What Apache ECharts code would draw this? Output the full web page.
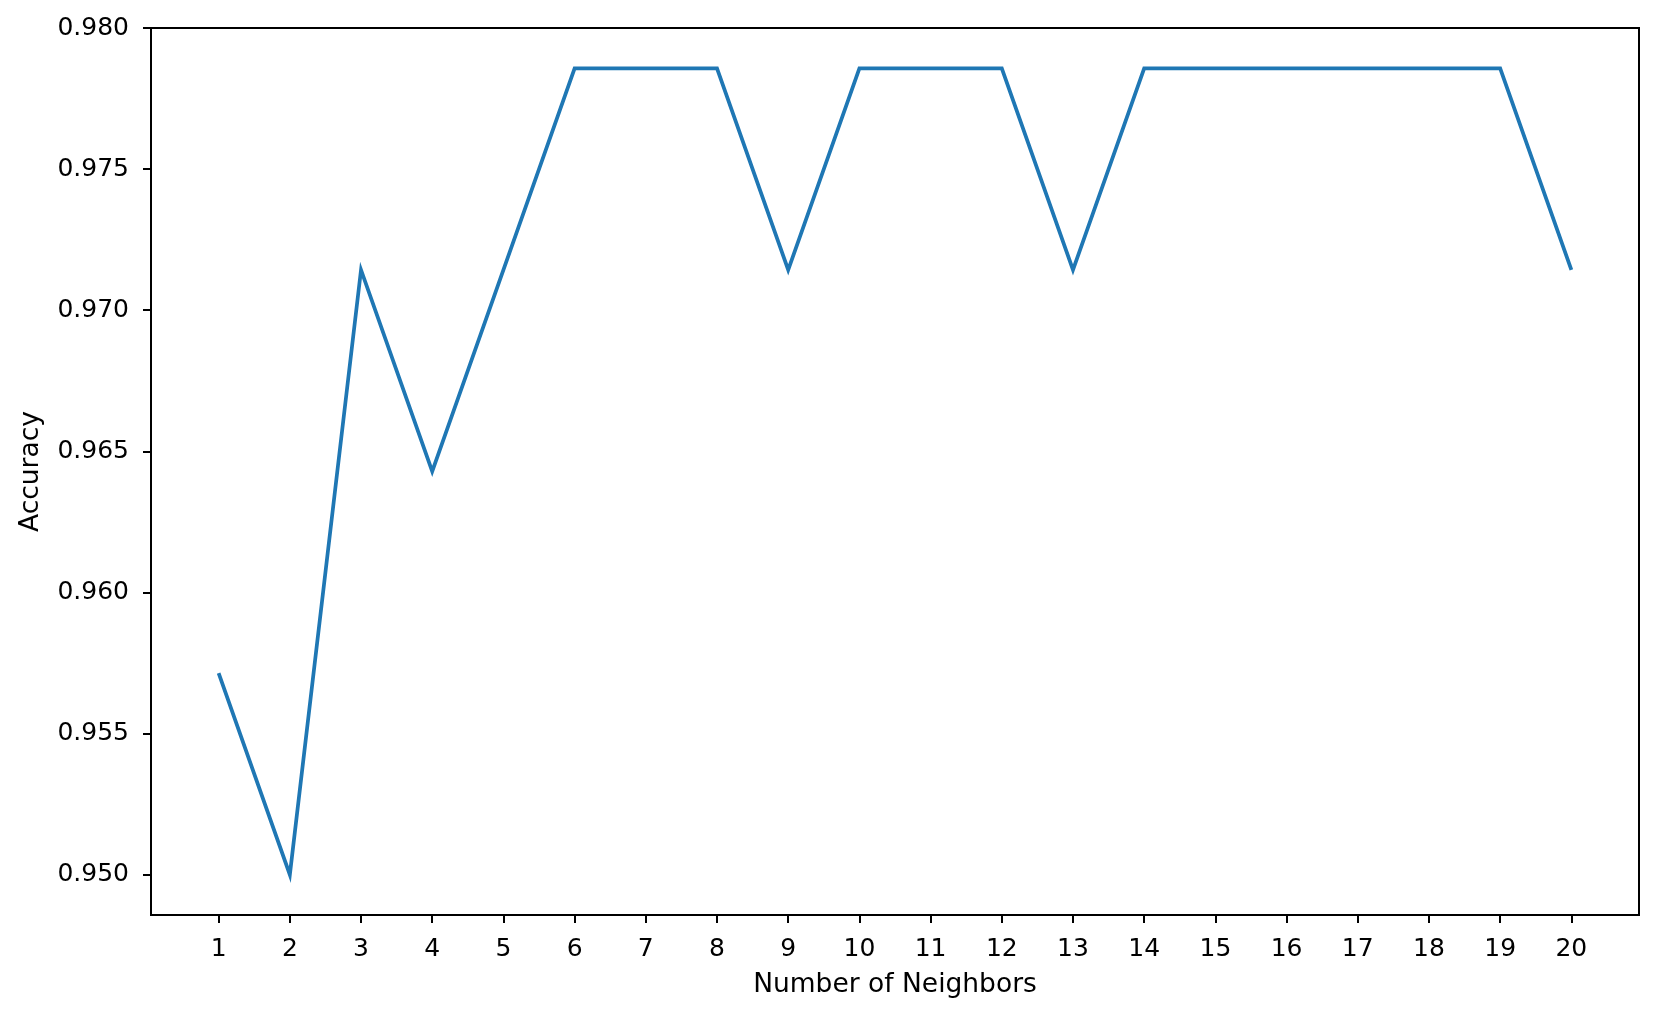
<!DOCTYPE html>
<html>
<head>
<meta charset="utf-8">
<script src="https://cdn.jsdelivr.net/npm/echarts@6/dist/echarts.min.js"></script>
<style>html,body{margin:0;padding:0;background:#fff}#c{width:1657px;height:1016px}</style>
</head>
<body>
<div id="c"></div>
<script>
const neighbors = [1,2,3,4,5,6,7,8,9,10,11,12,13,14,15,16,17,18,19,20];
const accuracy = [0.957143,0.950000,0.971429,0.964286,0.971429,0.978571,0.978571,0.978571,0.971429,0.978571,0.978571,0.978571,0.971429,0.978571,0.978571,0.978571,0.978571,0.978571,0.978571,0.971429];
const yTicks = [0.950,0.955,0.960,0.965,0.970,0.975,0.980];

const chart = echarts.init(document.getElementById('c'), null, {renderer:'canvas'});
const font = 'DejaVu Sans';
chart.setOption({
  animation: false,
  backgroundColor: '#fff',
  grid: {left:151, top:28, right:18, bottom:101, show:true, borderColor:'#000', borderWidth:2, backgroundColor:'transparent'},
  xAxis: {
    type:'value', min:0.05, max:20.95,
    name:'Number of Neighbors', nameLocation:'middle', nameGap:57,
    nameTextStyle:{fontFamily:font, fontSize:26.5, color:'#000'},
    axisLine:{show:true, onZero:false, lineStyle:{color:'#000', width:2}},
    axisTick:{show:true, length:8, inside:false, customValues:neighbors, lineStyle:{color:'#000', width:2}},
    axisLabel:{customValues:neighbors, margin:22, fontFamily:font, fontSize:25, color:'#000'},
    splitLine:{show:false}
  },
  yAxis: {
    type:'value', min:0.948571, max:0.98,
    name:'Accuracy', nameLocation:'middle', nameGap:106,
    nameTextStyle:{fontFamily:font, fontSize:26.5, color:'#000'},
    axisLine:{show:true, onZero:false, lineStyle:{color:'#000', width:2}},
    axisTick:{show:true, length:8, inside:false, customValues:yTicks, lineStyle:{color:'#000', width:2}},
    axisLabel:{customValues:yTicks, margin:22, fontFamily:font, fontSize:25, color:'#000', formatter:v=>v.toFixed(3)},
    splitLine:{show:false}
  },
  series: [{
    type:'line', showSymbol:false, symbol:'none',
    data: neighbors.map((n,i)=>[n, accuracy[i]]),
    lineStyle:{color:'#1f77b4', width:3.75, join:'miter'},
    itemStyle:{color:'#1f77b4'}
  }]
});
</script>
</body>
</html>
